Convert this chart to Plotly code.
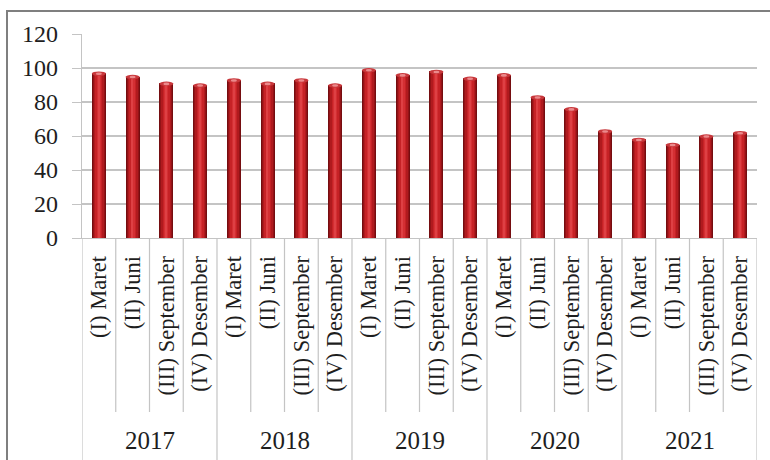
import plotly.graph_objects as go

# Quarterly values per year
years = ["2017", "2018", "2019", "2020", "2021"]
quarters = ["(I) Maret", "(II) Juni", "(III) September", "(IV) Desember"]
values = [97, 95, 91, 90,
          93, 91, 93, 90,
          99, 96, 98, 94,
          96, 83, 76, 63,
          58, 55, 60, 62]
y_ticks = [0, 20, 40, 60, 80, 100, 120]

W, H = 770, 460
ML, MR, MT, MB = 82, 13, 34, 222
plot_w = W - ML - MR
plot_h = H - MT - MB

n = len(values)
xs = list(range(n))
tick_text = [q for _ in years for q in quarters]

FONT = "Liberation Serif, Times New Roman, serif"
GRID = "#c4c4c4"
TEXT = "#1e1e1e"

fig = go.Figure()

# cylinder look: stacked overlay bars, from dark edge to bright core
layers = [(0.42, "#750d10"), (0.36, "#931317"), (0.29, "#b01a1e"),
          (0.21, "#c62226"), (0.12, "#d42f33"), (0.05, "#de4044")]
for w, c in layers:
    fig.add_trace(go.Bar(x=xs, y=values, width=w, marker=dict(color=c, line=dict(width=0)),
                         showlegend=False, hoverinfo="skip"))

shapes = []
# top caps of the cylinders
for i, v in enumerate(values):
    shapes.append(dict(type="circle", xref="x", yref="y", x0=i - 0.21, x1=i + 0.21,
                       y0=v - 1.6, y1=v + 1.0, fillcolor="#c8383c", line=dict(width=0), layer="above"))
    shapes.append(dict(type="circle", xref="x", yref="y", x0=i - 0.09, x1=i + 0.09,
                       y0=v - 1.1, y1=v + 0.4, fillcolor="#ec8a8c", line=dict(width=0), layer="above"))

# category separators below the axis
inner_end = -(412 - (MT + plot_h)) / plot_h
outer_end = -(H + 5 - (MT + plot_h)) / plot_h
for k in range(n + 1):
    xb = k - 0.5
    full = (k % len(quarters) == 0)
    shapes.append(dict(type="line", xref="x", yref="paper", x0=xb, x1=xb, y0=0,
                       y1=outer_end if full else inner_end,
                       line=dict(color=GRID, width=1.2)))

# outer chart frame
fx0 = (7 - ML) / plot_w
fy1 = 1 + (MT - 11) / plot_h
shapes.append(dict(type="rect", xref="paper", yref="paper", x0=fx0, x1=1.2, y0=-1.5, y1=fy1,
                   line=dict(color="#7f7f7f", width=2), fillcolor="rgba(0,0,0,0)", layer="below"))

# year labels
year_y = -(440 - (MT + plot_h)) / plot_h
annotations = []
for j, yr in enumerate(years):
    annotations.append(dict(x=j * len(quarters) + (len(quarters) - 1) / 2, y=year_y,
                            xref="x", yref="paper", text=yr, showarrow=False,
                            font=dict(family=FONT, size=25, color=TEXT),
                            xanchor="center", yanchor="middle"))

fig.update_layout(
    width=W, height=H,
    margin=dict(l=ML, r=MR, t=MT, b=MB, pad=0),
    paper_bgcolor="white", plot_bgcolor="white",
    barmode="overlay", bargap=0,
    shapes=shapes, annotations=annotations,
    showlegend=False,
)
fig.update_xaxes(range=[-0.5, n - 0.5], tickvals=xs, ticktext=tick_text, tickangle=-90,
                 tickfont=dict(family=FONT, size=22.5, color=TEXT),
                 ticks="", showgrid=False, zeroline=False,
                 showline=True, linecolor=GRID, linewidth=1.2, ticklabelstandoff=8)
fig.update_yaxes(range=[0, 120], tickvals=y_ticks, ticks="outside", ticklen=9,
                 tickcolor=GRID, tickwidth=1.2,
                 tickfont=dict(family=FONT, size=24, color=TEXT),
                 showgrid=True, gridcolor=GRID, gridwidth=1.5, zeroline=False,
                 showline=True, linecolor=GRID, linewidth=1.2, ticklabelstandoff=9)

fig.write_html("out.html")
